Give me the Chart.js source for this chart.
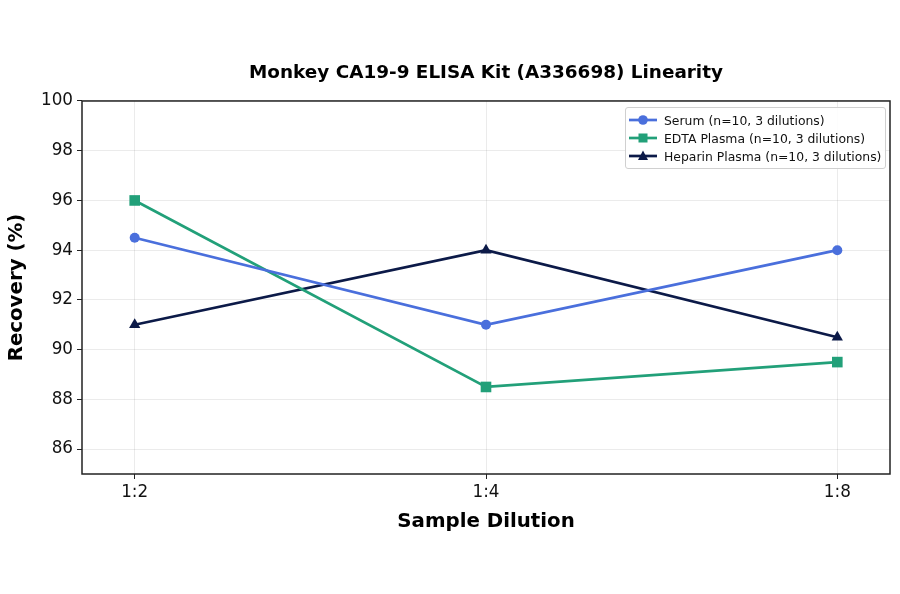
<!DOCTYPE html>
<html>
<head>
<meta charset="utf-8">
<script src="https://cdn.jsdelivr.net/npm/chart.js@4"></script>
<style>
    html, body { margin: 0; padding: 0; background: #fff; }
    #wrap { position: relative; width: 900px; height: 594px; }
    #legend {
        position: absolute; left: 625px; top: 107px; width: 253px;
        background: rgba(255,255,255,0.9);
        border: 1px solid #d0d0d0; border-radius: 3px;
        padding: 3px 3px 3px 3px;
        font-family: "DejaVu Sans", sans-serif; font-size: 12.4px; color: #111;
    }
    #legend .row { display: flex; align-items: center; height: 18px; }
    #legend svg { margin-right: 7px; }
</style>
</head>
<body>
<div id="wrap">
    <canvas id="chart" width="900" height="594"></canvas>
    <div id="legend"></div>
</div>
<script>
// 数据
const dilutions = ['1:2', '1:4', '1:8'];
const serum = [94.5, 91.0, 94.0];
const edtaPlasma = [96.0, 88.5, 89.5];
const heparinPlasma = [91.0, 94.0, 90.5];
const yTicks = [86, 88, 90, 92, 94, 96, 98, 100];

const seriesNames = [
    'Serum (n=10, 3 dilutions)',
    'EDTA Plasma (n=10, 3 dilutions)',
    'Heparin Plasma (n=10, 3 dilutions)'
];
const seriesColors = ['#4a6fdc', '#22a079', '#0c1a48'];
const seriesStyles = ['circle', 'rect', 'triangle'];
const seriesRadius = [5, 7.5, 6.5];

function toPoints(values) {
    return values.map((v, i) => ({ x: i, y: v }));
}

// 绘制外框
const framePlugin = {
    id: 'frame',
    afterDatasetsDraw(chart) {
        const { ctx, chartArea: a } = chart;
        ctx.save();
        ctx.strokeStyle = '#222';
        ctx.lineWidth = 1.5;
        ctx.strokeRect(a.left, a.top, a.right - a.left, a.bottom - a.top);
        ctx.restore();
    }
};

const datasets = [serum, edtaPlasma, heparinPlasma].map((vals, i) => ({
    label: seriesNames[i],
    data: toPoints(vals),
    borderColor: seriesColors[i],
    backgroundColor: seriesColors[i],
    borderWidth: 2.7,
    pointStyle: seriesStyles[i],
    pointRadius: seriesRadius[i],
    pointHoverRadius: seriesRadius[i],
    pointBorderWidth: 0,
    tension: 0
}));

const gridColor = 'rgba(0,0,0,0.08)';

new Chart(document.getElementById('chart').getContext('2d'), {
    type: 'line',
    data: { datasets },
    plugins: [framePlugin],
    options: {
        responsive: false,
        animation: false,
        layout: { padding: { left: 0, right: 10, top: 0, bottom: 0 } },
        plugins: {
            legend: { display: false },
            tooltip: { enabled: false },
            title: {
                display: true,
                fullSize: false,
                text: 'Monkey CA19-9 ELISA Kit (A336698) Linearity',
                color: '#000',
                font: { family: 'DejaVu Sans', size: 18.4, weight: 'bold', lineHeight: 1.2 },
                padding: { top: 62, bottom: 16.9 }
            }
        },
        scales: {
            x: {
                type: 'linear',
                min: -0.15,
                max: 2.15,
                afterBuildTicks: (scale) => {
                    scale.ticks = dilutions.map((d, i) => ({ value: i }));
                },
                afterFit: (scale) => { scale.height = 120; },
                ticks: {
                    color: '#111',
                    padding: 4,
                    font: { family: 'DejaVu Sans', size: 16.8 },
                    callback: (value) => dilutions[value]
                },
                grid: { color: gridColor, tickColor: '#222', tickLength: 5 },
                border: { display: false },
                title: {
                    display: true,
                    text: 'Sample Dilution',
                    color: '#000',
                    font: { family: 'DejaVu Sans', size: 19.8, weight: 'bold', lineHeight: 1.2 },
                    padding: { top: 0, bottom: 60 }
                }
            },
            y: {
                min: 85,
                max: 100,
                afterBuildTicks: (scale) => {
                    scale.ticks = yTicks.map(v => ({ value: v }));
                },
                afterFit: (scale) => { scale.width = 82; },
                ticks: {
                    color: '#111',
                    padding: 4,
                    font: { family: 'DejaVu Sans', size: 16.8 }
                },
                grid: { color: gridColor, tickColor: '#222', tickLength: 5 },
                border: { display: false },
                title: {
                    display: true,
                    text: 'Recovery (%)',
                    color: '#000',
                    font: { family: 'DejaVu Sans', size: 19.8, weight: 'bold', lineHeight: 1.2 },
                    padding: { top: 5, bottom: 0 }
                }
            }
        }
    }
});

// 图例
function markerSvg(style, color) {
    let shape = '';
    if (style === 'circle') shape = `<circle cx="14" cy="7" r="4.8" fill="${color}"/>`;
    else if (style === 'rect') shape = `<rect x="9.5" y="2.5" width="9" height="9" fill="${color}"/>`;
    else shape = `<polygon points="14,1.5 19,11 9,11" fill="${color}"/>`;
    return `<svg width="28" height="14"><line x1="0" y1="7" x2="28" y2="7" stroke="${color}" stroke-width="2.7"/>${shape}</svg>`;
}

document.getElementById('legend').innerHTML = seriesNames.map((name, i) => `
    <div class="row">${markerSvg(seriesStyles[i], seriesColors[i])}<span>${name}</span></div>
`).join('');
</script>
</body>
</html>
